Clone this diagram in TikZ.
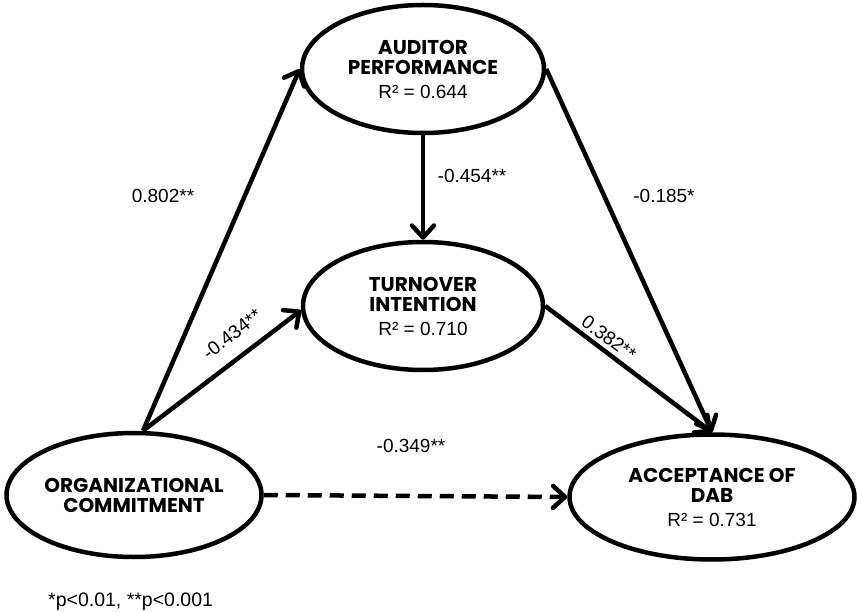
\documentclass[tikz,border=0pt]{standalone}
\usepackage{fontspec}
\setmainfont{Liberation Sans}
\newfontfamily\hdfont{Poppins}
\usetikzlibrary{arrows.meta,shapes.geometric}
\newcommand\hd[1]{{\hdfont\bfseries\fontsize{20}{20}\selectfont #1}}
\tikzset{
  el/.style={ellipse, draw, line width=4.5pt, inner sep=0pt, align=center,
    font=\fontsize{19}{20}\selectfont},
  arr/.style={line width=4.5pt, -{Straight Barb[length=12pt,width=22pt,round]}},
  lbl/.style={font=\fontsize{19}{20}\selectfont, inner sep=0pt},
}
\begin{document}
\begin{tikzpicture}[x=1pt,y=-1pt]
\useasboundingbox (0,0) rectangle (857,612);
\node[el, minimum width=242pt, minimum height=128pt] (AP) at (423,69)
  {\hd{AUDITOR}\\\hd{PERFORMANCE}\\[4pt]R² = 0.644};
\node[el, minimum width=240pt, minimum height=128pt] (TI) at (423,306)
  {\hd{TURNOVER}\\\hd{INTENTION}\\[4pt]R² = 0.710};
\node[el, minimum width=255pt, minimum height=124pt] (OC) at (134,495)
  {\hd{ORGANIZATIONAL}\\\hd{COMMITMENT}};
\node[el, minimum width=285pt, minimum height=125pt] (AD) at (712,497)
  {\hd{ACCEPTANCE OF}\\\hd{DAB}\\[4pt]R² = 0.731};

\coordinate (OCt) at ([xshift=9pt]OC.north);
\draw[arr] (OCt) -- (AP.west);
\draw[arr] (OCt) -- (TI.182);
\draw[arr] (AP.south) -- (TI.north);
\draw[arr] (AP.east) -- (AD.north);
\draw[arr] (TI.east) -- (AD.north);
\draw[arr, dash pattern=on 14pt off 8pt] (OC.east) -- (AD.west);

\node[lbl, anchor=base] (l1) at (163,203) {0.802**};
\node[lbl, anchor=base] (l2) at (472,183) {-0.454**};
\node[lbl, anchor=base] (l3) at (664,203) {-0.185*};
\node[lbl, anchor=base] (l4) at (411,452) {-0.349**};
\node[lbl, rotate=37.6] (l5) at (232,334) {-0.434**};
\node[lbl, rotate=-36.5] (l6) at (609,338) {0.382**};
\node[lbl, anchor=base west, font=\fontsize{19.5}{20}\selectfont] (fn) at (48,606) {*p<0.01, **p<0.001};
\end{tikzpicture}
\end{document}
